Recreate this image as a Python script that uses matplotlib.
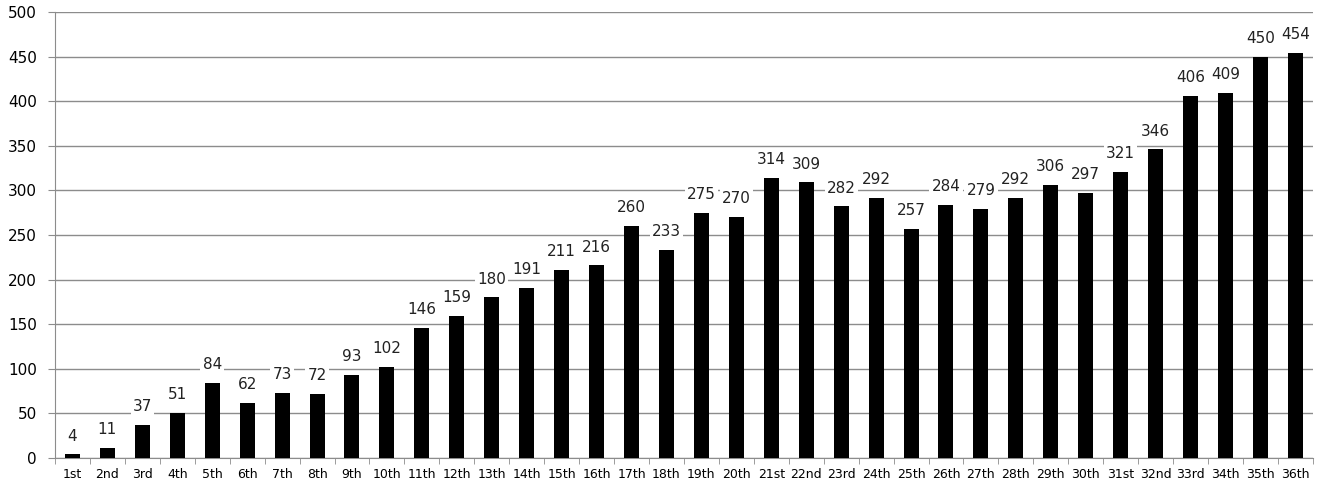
import matplotlib
matplotlib.use("Agg")
import matplotlib.pyplot as plt
import numpy as np

# Data
ranks = ["1st", "2nd", "3rd", "4th", "5th", "6th", "7th", "8th", "9th", "10th",
         "11th", "12th", "13th", "14th", "15th", "16th", "17th", "18th", "19th", "20th",
         "21st", "22nd", "23rd", "24th", "25th", "26th", "27th", "28th", "29th", "30th",
         "31st", "32nd", "33rd", "34th", "35th", "36th"]
values = [4, 11, 37, 51, 84, 62, 73, 72, 93, 102,
          146, 159, 180, 191, 211, 216, 260, 233, 275, 270,
          314, 309, 282, 292, 257, 284, 279, 292, 306, 297,
          321, 346, 406, 409, 450, 454]
y_ticks = [0, 50, 100, 150, 200, 250, 300, 350, 400, 450, 500]

fig = plt.figure(figsize=(13.28, 4.9), dpi=100)
ax = fig.add_axes([0.0414, 0.0653, 0.9472, 0.9102])

x = np.arange(len(ranks))
ax.bar(x, values, width=0.43, color="black", zorder=3)

for xi, v in zip(x, values):
    ax.text(xi, v + 12, str(v), ha="center", va="bottom", fontsize=11, color="#222222",
            zorder=4, bbox=dict(facecolor="white", edgecolor="none", pad=1.5))

ax.set_xlim(-0.5, len(ranks) - 0.5)
ax.set_ylim(0, 500)
ax.set_yticks(y_ticks)
ax.yaxis.grid(True, color="#8c8c8c", linewidth=1)
ax.set_axisbelow(True)

ax.set_xticks(x)
ax.set_xticklabels(ranks, fontsize=9)
ax.set_xticks(np.arange(-0.5, len(ranks)), minor=True)
ax.tick_params(axis="x", which="major", length=0, pad=7)
ax.tick_params(axis="x", which="minor", length=4, color="#8c8c8c", direction="out")
ax.tick_params(axis="y", labelsize=11, length=5, color="#8c8c8c", pad=8)

for side in ["top", "right"]:
    ax.spines[side].set_visible(False)
for side in ["left", "bottom"]:
    ax.spines[side].set_color("#8c8c8c")

fig.savefig("out.png", dpi=100)
